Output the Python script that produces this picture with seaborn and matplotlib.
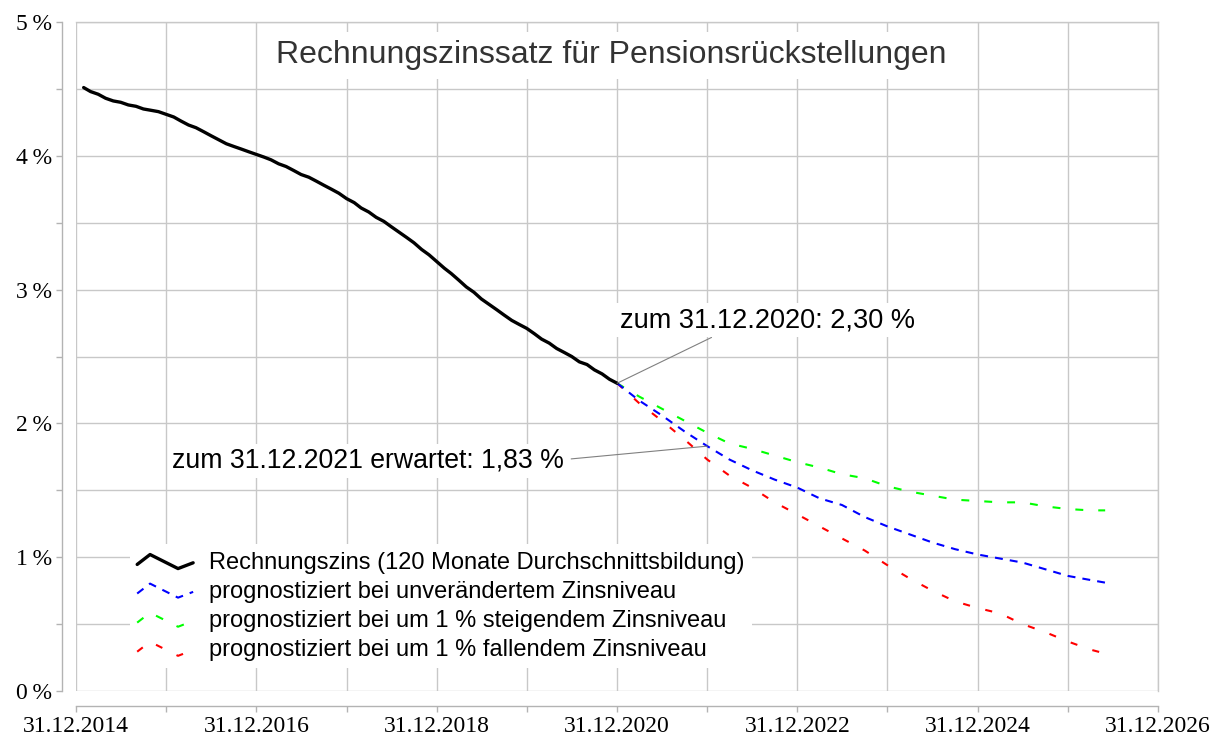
import numpy as np
import pandas as pd
import matplotlib
matplotlib.use('Agg')
import matplotlib.pyplot as plt
import matplotlib.dates as mdates
from matplotlib.ticker import FixedLocator, MultipleLocator, FuncFormatter
from matplotlib.legend_handler import HandlerBase
from matplotlib.lines import Line2D
import seaborn as sns

# Rechnungszins (10-Jahres-Durchschnitt), Monatsende Jan 2015 - Dez 2020
hist_start, hist_end = '2015-01-31', '2020-12-31'
hist_values = [4.51, 4.48, 4.46, 4.43, 4.41, 4.40, 4.38, 4.37, 4.35, 4.34, 4.33, 4.31,
               4.29, 4.26, 4.23, 4.21, 4.18, 4.15, 4.12, 4.09, 4.07, 4.05, 4.03, 4.01,
               3.99, 3.97, 3.94, 3.92, 3.89, 3.86, 3.84, 3.81, 3.78, 3.75, 3.72, 3.68,
               3.65, 3.61, 3.58, 3.54, 3.51, 3.47, 3.43, 3.39, 3.35, 3.30, 3.26, 3.21,
               3.16, 3.12, 3.07, 3.02, 2.98, 2.93, 2.89, 2.85, 2.81, 2.77, 2.74, 2.71,
               2.67, 2.63, 2.60, 2.56, 2.53, 2.50, 2.46, 2.44, 2.40, 2.37, 2.33, 2.30]

# Prognosen, quartalsweise ab 31.12.2020 (letzter Punkt Ende Mai 2026)
fc_dates = ['2020-12-31', '2021-03-31', '2021-06-30', '2021-09-30', '2021-12-31',
            '2022-03-31', '2022-06-30', '2022-09-30', '2022-12-31',
            '2023-03-31', '2023-06-30', '2023-09-30', '2023-12-31',
            '2024-03-31', '2024-06-30', '2024-09-30', '2024-12-31',
            '2025-03-31', '2025-06-30', '2025-09-30', '2025-12-31',
            '2026-03-31', '2026-05-31']
fc_unchanged = [2.30, 2.17, 2.06, 1.94, 1.83, 1.73, 1.65, 1.58, 1.52, 1.44, 1.39, 1.30,
                1.23, 1.17, 1.11, 1.06, 1.02, 0.99, 0.96, 0.91, 0.86, 0.83, 0.81]
fc_rising = [2.30, 2.20, 2.11, 2.02, 1.93, 1.85, 1.81, 1.76, 1.71, 1.67, 1.62, 1.59,
             1.53, 1.49, 1.46, 1.43, 1.42, 1.41, 1.41, 1.38, 1.36, 1.35, 1.35]
fc_falling = [2.30, 2.15, 2.02, 1.88, 1.73, 1.61, 1.52, 1.41, 1.32, 1.23, 1.14, 1.05,
              0.94, 0.84, 0.75, 0.67, 0.62, 0.58, 0.50, 0.44, 0.37, 0.31, 0.28]

labels = ['Rechnungszins (120 Monate Durchschnittsbildung)',
          'prognostiziert bei unverändertem Zinsniveau',
          'prognostiziert bei um 1 % steigendem Zinsniveau',
          'prognostiziert bei um 1 % fallendem Zinsniveau']

x_major = ['2014-12-31', '2016-12-31', '2018-12-31', '2020-12-31',
           '2022-12-31', '2024-12-31', '2026-12-31']
x_minor = ['2015-12-31', '2017-12-31', '2019-12-31', '2021-12-31',
           '2023-12-31', '2025-12-31']
y_ticks = [0, 1, 2, 3, 4, 5]

hist = pd.DataFrame({'datum': pd.date_range(hist_start, hist_end, freq='ME'),
                     'zins': hist_values})
fc = pd.DataFrame({'datum': pd.to_datetime(fc_dates),
                   'unveraendert': fc_unchanged,
                   'steigend': fc_rising,
                   'fallend': fc_falling})

sns.set_theme(style='whitegrid')
plt.rcParams['font.family'] = ['Liberation Sans', 'DejaVu Sans']
plt.rcParams['text.color'] = 'black'

fig = plt.figure(figsize=(12.15, 7.37), dpi=100)
ax = fig.add_axes([76 / 1215, 46 / 737, 1082 / 1215, 669 / 737])

sns.lineplot(data=hist, x='datum', y='zins', ax=ax, color='black', lw=2.4,
             label=labels[0], zorder=5)
sns.lineplot(data=fc, x='datum', y='unveraendert', ax=ax, color='#0000ff', lw=1.5,
             linestyle=(0, (3.8, 3.4)), label=labels[1], zorder=4)
sns.lineplot(data=fc, x='datum', y='steigend', ax=ax, color='#00ff00', lw=1.5,
             linestyle=(0, (3.8, 7.2)), label=labels[2], zorder=3)
sns.lineplot(data=fc, x='datum', y='fallend', ax=ax, color='#ff0000', lw=1.5,
             linestyle=(0, (3.4, 7.6)), label=labels[3], zorder=3)

ax.set_xlim(pd.Timestamp(x_major[0]), pd.Timestamp(x_major[-1]))
ax.set_ylim(0, 5)
ax.xaxis.set_major_locator(FixedLocator(mdates.date2num(pd.to_datetime(x_major))))
ax.xaxis.set_minor_locator(FixedLocator(mdates.date2num(pd.to_datetime(x_minor))))
ax.xaxis.set_major_formatter(mdates.DateFormatter('%d.%m.%Y'))
ax.yaxis.set_major_locator(FixedLocator(y_ticks))
ax.yaxis.set_minor_locator(MultipleLocator(0.5))
ax.yaxis.set_major_formatter(FuncFormatter(lambda v, p: f'{v:.0f}\u2009%'))
ax.set_xlabel('')
ax.set_ylabel('')

grid_c = '#c8c8c8'
ax.grid(True, which='both', color=grid_c, lw=1.0)
ax.set_axisbelow(True)
for side in ['top', 'right']:
    ax.spines[side].set_color(grid_c)
    ax.spines[side].set_linewidth(1.0)
for side in ['left', 'bottom']:
    ax.spines[side].set_color('#b3b3b3')
    ax.spines[side].set_linewidth(1.0)
ax.spines['left'].set_position(('outward', 10))
ax.spines['bottom'].set_position(('outward', 11))

ax.tick_params(which='both', direction='out', length=4, width=1.0, color='#b3b3b3',
               left=True, bottom=True)
ax.tick_params(axis='both', labelsize=17, pad=3, labelcolor='black')
for lab in ax.get_xticklabels() + ax.get_yticklabels():
    lab.set_fontfamily(['Liberation Serif', 'DejaVu Serif'])

# Titel im Diagramm
ax.text(0.495, 0.95, 'Rechnungszinssatz für Pensionsrückstellungen',
        transform=ax.transAxes, ha='center', va='center', fontsize=23,
        color='#333333', bbox=dict(facecolor='white', edgecolor='none', pad=6), zorder=6)

# Anmerkungen
ax.annotate('zum 31.12.2020: 2,30 %', xy=(pd.Timestamp('2020-12-31'), 2.30),
            xytext=(pd.Timestamp('2021-01-10'), 2.77), fontsize=19.5, ha='left', va='center',
            color='black', bbox=dict(facecolor='white', edgecolor='none', pad=3),
            arrowprops=dict(arrowstyle='-', color='#808080', lw=0.8, shrinkA=0, shrinkB=0,
                            relpos=(0.34, 0.0)), zorder=6)
ax.annotate('zum 31.12.2021 erwartet: 1,83 %', xy=(pd.Timestamp('2021-12-31'), 1.83),
            xytext=(pd.Timestamp('2016-01-25'), 1.72), fontsize=19.2, ha='left', va='center',
            color='black', bbox=dict(facecolor='white', edgecolor='none', pad=3),
            arrowprops=dict(arrowstyle='-', color='#808080', lw=0.8, shrinkA=2, shrinkB=0,
                            relpos=(1.0, 0.55)), zorder=6)


class ZigZag(HandlerBase):
    def create_artists(self, legend, orig_handle, xdescent, ydescent,
                       width, height, fontsize, trans):
        xs = np.array([0.0, 0.23, 0.73, 1.0]) * width - xdescent
        ys = np.array([0.25, 0.85, 0.0, 0.35]) * height - ydescent
        line = Line2D(xs, ys)
        self.update_prop(line, orig_handle, legend)
        line.set_transform(trans)
        return [line]


handles, labs = ax.get_legend_handles_labels()
leg = ax.legend(handles, labs, loc='upper left', bbox_to_anchor=(0.050, 0.219),
                fontsize=17, frameon=True, facecolor='white', edgecolor='none',
                framealpha=1, fancybox=False, handlelength=2.37, handletextpad=0.68,
                labelspacing=0.3, borderpad=0.3, borderaxespad=0,
                handler_map={Line2D: ZigZag()})
leg.set_zorder(7)
for t in leg.get_texts():
    t.set_color('black')

fig.savefig('out.png', dpi=100)
